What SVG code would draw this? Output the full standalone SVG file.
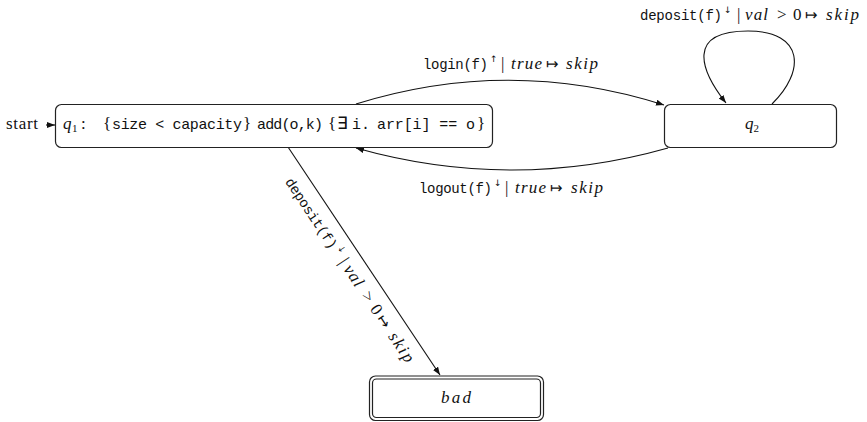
<svg xmlns="http://www.w3.org/2000/svg" width="867" height="422" viewBox="0 0 867 422">
<style>
.box{fill:#fff;stroke:#222;stroke-width:1.2}
.edge{fill:none;stroke:#111;stroke-width:1.1}
.t{font-family:"Liberation Serif","Times New Roman",serif;font-size:17px;fill:#111}
.m{font-family:"Liberation Mono","Courier New",monospace;font-size:14px}
.mq{font-family:"Liberation Mono","Courier New",monospace;font-size:15px}
.i{font-style:italic}
.s{font-family:"DejaVu Sans",sans-serif;font-size:15px}
.sup{font-family:"DejaVu Sans",sans-serif;font-size:9px}
</style>
<defs>
<marker id="ah" markerUnits="userSpaceOnUse" markerWidth="10" markerHeight="8" refX="8" refY="3" orient="auto">
<path d="M0,0 L8,3 L0,6 Z" fill="#111"/>
</marker>
</defs>
<rect width="867" height="422" fill="#fff"/>
<g id="connectors">
<line class="edge" x1="46" y1="125" x2="55" y2="125" marker-end="url(#ah)"/>
<path class="edge" d="M356,104 Q510,56 664,105" marker-end="url(#ah)"/>
<path class="edge" d="M668,148 Q512,192 356,148" marker-end="url(#ah)"/>
<path class="edge" d="M772,104 C805,72 805,31 748,31 C686,31 700,70 726,103" marker-end="url(#ah)"/>
<line class="edge" x1="288" y1="147" x2="440" y2="375" marker-end="url(#ah)"/>
<text class="t" y="69"><tspan class="m" x="423" textLength="65" lengthAdjust="spacing">login(f)</tspan><tspan class="sup" x="490" y="62">↑</tspan><tspan x="501" y="69">|</tspan><tspan class="i" x="511" textLength="31" lengthAdjust="spacing">true</tspan><tspan class="s" x="546">↦</tspan><tspan class="i" x="566" textLength="32" lengthAdjust="spacing">skip</tspan></text>
<text class="t" y="193"><tspan class="m" x="419" textLength="73" lengthAdjust="spacing">logout(f)</tspan><tspan class="sup" x="494" y="186">↓</tspan><tspan x="505" y="193">|</tspan><tspan class="i" x="515" textLength="31" lengthAdjust="spacing">true</tspan><tspan class="s" x="550">↦</tspan><tspan class="i" x="571" textLength="32" lengthAdjust="spacing">skip</tspan></text>
<text class="t" y="20"><tspan class="m" x="640" textLength="82" lengthAdjust="spacing">deposit(f)</tspan><tspan class="sup" x="724" y="13">↓</tspan><tspan x="737" y="20">|</tspan><tspan class="i" x="745" textLength="23" lengthAdjust="spacing">val</tspan><tspan x="777">&gt;</tspan><tspan x="793">0</tspan><tspan class="s" x="805">↦</tspan><tspan class="i" x="826" textLength="33" lengthAdjust="spacing">skip</tspan></text>
<text class="t" transform="translate(345.7,273.2) rotate(56.3)" y="0"><tspan class="m" x="-110" textLength="82" lengthAdjust="spacing">deposit(f)</tspan><tspan class="sup" x="-26" y="-7">↓</tspan><tspan x="-13" y="0">|</tspan><tspan class="i" x="-5" textLength="23" lengthAdjust="spacing">val</tspan><tspan x="27">&gt;</tspan><tspan x="43">0</tspan><tspan class="s" x="55">↦</tspan><tspan class="i" x="76" textLength="33" lengthAdjust="spacing">skip</tspan></text>
</g>
<g id="start">
<text class="t" x="6" y="129" font-size="16" textLength="32" lengthAdjust="spacing">start</text>
</g>
<g id="q1">
<rect class="box" x="55.5" y="104.5" width="437" height="43" rx="6"/>
<text class="t" y="129"><tspan class="i" x="63">q</tspan><tspan font-size="11" x="72" dy="3">1</tspan><tspan x="81" dy="-3">:</tspan><tspan x="103">{</tspan><tspan class="mq" x="112" textLength="130" lengthAdjust="spacing">size &lt; capacity</tspan><tspan x="243">}</tspan><tspan class="mq" x="257" textLength="66" lengthAdjust="spacing">add(o,k)</tspan><tspan x="328">{</tspan><tspan x="337">∃</tspan><tspan class="mq" x="352">i.</tspan><tspan class="mq" x="377" textLength="98" lengthAdjust="spacing">arr[i] == o</tspan><tspan x="477">}</tspan></text>
</g>
<g id="q2">
<rect class="box" x="664.5" y="104.5" width="172" height="43" rx="6"/>
<text class="t" x="745" y="129"><tspan class="i">q</tspan><tspan font-size="11" dy="3">2</tspan></text>
</g>
<g id="bad">
<rect class="box" x="369.5" y="376" width="174" height="44.5" rx="6"/>
<rect class="box" x="372.5" y="379" width="168" height="38.5" rx="4"/>
<text class="t i" x="456" y="403" text-anchor="middle" textLength="30" lengthAdjust="spacing">bad</text>
</g>
</svg>
